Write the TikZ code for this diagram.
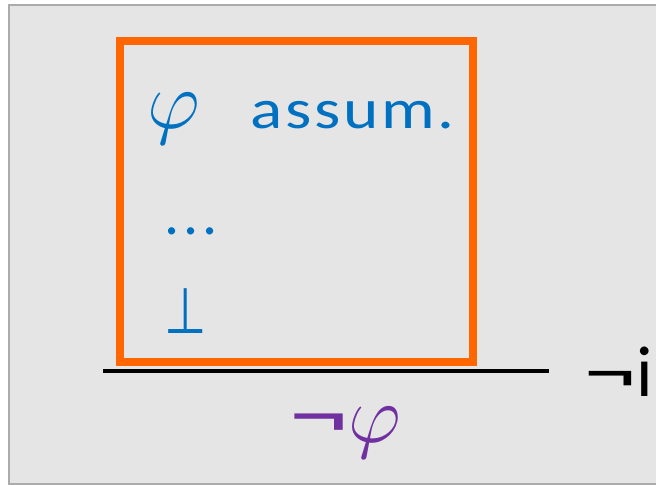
\documentclass[tikz,border=0pt]{standalone}
\usepackage{fix-cm}
\usepackage{fontspec}
\setmainfont{Carlito}
\newfontfamily\spacedfont[LetterSpace=4]{Carlito}
\newfontfamily\dotfont[LetterSpace=7]{Carlito}
\newfontfamily\symbolfont{DejaVu Sans}

\definecolor{panelgray}{HTML}{E5E5E5}
\definecolor{panelline}{HTML}{ABABAB}
\definecolor{boxorange}{HTML}{FF6600}
\definecolor{proofblue}{HTML}{0070C0}
\definecolor{proofpurple}{HTML}{7030A0}

\newcommand{\wideneg}{\scalebox{1.45}[1]{¬}}

\tikzset{
  prooftext/.style={inner sep=0pt, anchor=base west, text=proofblue},
  rulelabel/.style={inner sep=0pt, anchor=base west, text=black},
}

\begin{document}
\begin{tikzpicture}[x=0.5pt, y=-0.5pt]
        \useasboundingbox (0,0) rectangle (656,485);
        \draw[fill=panelgray, draw=panelline, line width=0.6pt](9,5) rectangle (720,484);

        % assumption box
        \draw[boxorange, line width=4pt](120,41) rectangle (473,362);

        \node[prooftext, font=\fontsize{41}{41}\selectfont] (phi) at (147,129) {$\varphi$};
        \node[prooftext, font=\fontsize{28}{28}\selectfont\spacedfont] (assum) at (250,129) {\scalebox{1.2}[1]{assum.}};
        \node[prooftext, font=\fontsize{30}{30}\selectfont\dotfont] (dots) at (164,235) {...};
        \node[prooftext, font=\fontsize{32}{32}\selectfont\symbolfont] (bot) at (164,333) {\scalebox{0.76}[1]{⊥}};

        % inference line
        \coordinate (ruleleft) at (103,371);
        \coordinate (ruleright) at (549,371);
        \draw[line width=2pt] (ruleleft) -- (ruleright);

        \node[rulelabel, font=\fontsize{36}{36}\selectfont] (negi) at (584,396) {\wideneg i};
        \node[prooftext, anchor=base west, text=proofpurple, font=\fontsize{41}{41}\selectfont] (negphi) at (289,442) {\wideneg$\varphi$};
\end{tikzpicture}
\end{document}
